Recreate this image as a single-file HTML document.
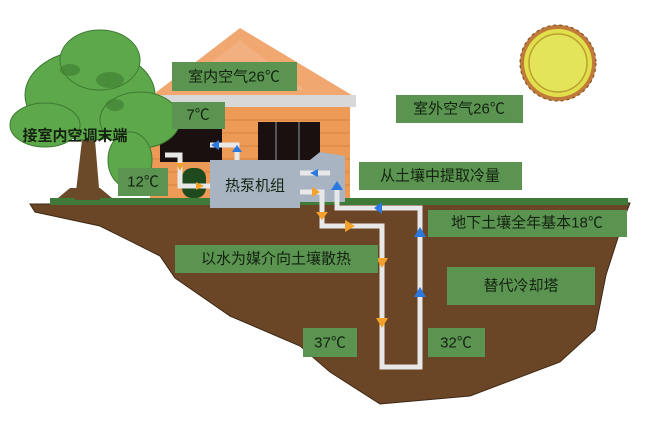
<!DOCTYPE html>
<html><head><meta charset="utf-8"><style>
body{margin:0;background:#fff;}
svg text{font-family:"Liberation Sans","Noto Sans CJK SC",sans-serif;fill:#142210;}
</style></head><body>
<svg width="645" height="427" viewBox="0 0 645 427" xmlns="http://www.w3.org/2000/svg">
<!-- sun -->
<g transform="translate(558,63)">
<circle r="38" fill="#c07a3a" stroke="#7a4a20" stroke-width="1" stroke-dasharray="3 3"/>
<circle r="34" fill="#e2e04a"/>
<circle r="29" fill="#e4e45a" stroke="#b9a030" stroke-width="1.5"/>
</g>
<!-- house roof -->
<polygon points="240,28 150,97 355,97" fill="#f0a870"/>
<polygon points="240,40 175,90 305,90" fill="#f4b890" opacity="0.5"/>
<rect x="148" y="95" width="208" height="12" fill="#d8d8d8"/>
<rect x="150" y="107" width="200" height="95" fill="#ec9a55"/>
<g stroke="#d7843f" stroke-width="1">
<line x1="150" y1="120" x2="350" y2="120"/><line x1="150" y1="133" x2="350" y2="133"/><line x1="150" y1="146" x2="350" y2="146"/><line x1="150" y1="159" x2="350" y2="159"/><line x1="150" y1="172" x2="350" y2="172"/><line x1="150" y1="185" x2="350" y2="185"/>
</g>
<rect x="258" y="122" width="62" height="40" fill="#1a1010"/>
<rect x="275" y="122" width="2" height="40" fill="#555"/><rect x="298" y="122" width="2" height="40" fill="#555"/>
<rect x="160" y="128" width="62" height="34" fill="#1a1010"/>
<!-- ground -->
<path d="M30,204 L630,203 L625,216 L606,275 L595,330 L560,362 L470,396 L380,404 L330,372 L300,346 L230,316 L175,278 L160,256 L100,226 L35,212 Z" fill="#6a4526" stroke="#3d2a16" stroke-width="1"/>
<rect x="50" y="198" width="578" height="7" fill="#3f7a38"/>
<!-- tree -->
<path d="M75,200 L82,140 L95,140 L100,200 Z" fill="#6b4a2a"/>
<path d="M58,198 L112,198 L100,188 L70,188 Z" fill="#6b4a2a"/>
<g fill="#5da84a" stroke="#3d7a30" stroke-width="1">
<ellipse cx="90" cy="95" rx="65" ry="45"/>
<ellipse cx="45" cy="125" rx="35" ry="22"/>
<ellipse cx="140" cy="120" rx="40" ry="28"/>
<ellipse cx="100" cy="60" rx="40" ry="30"/>
<ellipse cx="130" cy="160" rx="22" ry="28"/>
</g>
<g fill="#3d7a30" opacity="0.6">
<ellipse cx="110" cy="80" rx="14" ry="8"/><ellipse cx="70" cy="70" rx="10" ry="6"/><ellipse cx="115" cy="105" rx="9" ry="6"/>
</g>
<!-- heat pump -->
<path d="M210,160 L310,160 L320,152 L345,156 L345,202 L300,202 L300,208 L210,208 Z" fill="#a9b4c2"/>
<rect x="182" y="168" width="24" height="30" rx="10" fill="#1f4a1e"/>
<!-- pipes -->
<g fill="none" stroke="#e8e8e8" stroke-width="5">
<polyline points="165,155 180,155 180,186 210,186"/>
<polyline points="210,145 237,145 237,160"/>
<polyline points="300,192 322,192 322,226 382,226 382,367 420,367 420,208 337,208 337,185"/>
<polyline points="300,173 330,173"/>
</g>
<g fill="#f3a12a">
<polygon points="376,258 388,258 382,268"/><polygon points="376,318 388,318 382,328"/><polygon points="316,212 328,212 322,220"/><polygon points="345,220 355,226 345,232"/><polygon points="312,187 320,192 312,197"/><polygon points="176,163 184,163 180,171"/><polygon points="196,182 204,186 196,190"/>
</g>
<g fill="#2a78e0">
<polygon points="414,237 426,237 420,227"/><polygon points="414,297 426,297 420,287"/><polygon points="382,202 374,208 382,214"/><polygon points="331,190 343,190 337,181"/><polygon points="232,152 242,152 237,145"/><polygon points="219,140 211,145 219,150"/><polygon points="318,169 310,173 318,177"/>
</g>
<!-- labels -->
<g fill="#5a9450">
<rect x="172" y="62" width="125" height="29"/>
<rect x="172" y="102" width="53" height="27"/>
<rect x="118" y="168" width="50" height="28"/>
<rect x="396" y="95" width="127" height="28"/>
<rect x="359" y="162" width="163" height="28"/>
<rect x="428" y="210" width="199" height="27"/>
<rect x="175" y="245" width="203" height="28"/>
<rect x="447" y="267" width="148" height="38"/>
<rect x="303" y="328" width="54" height="29"/>
<rect x="428" y="328" width="57" height="29"/>
</g>
<g font-size="15" text-anchor="middle" dominant-baseline="central">
<text x="234" y="77">室内空气26℃</text>
<text x="198" y="115">7℃</text>
<text x="143" y="182">12℃</text>
<text x="255" y="186">热泵机组</text>
<text x="459" y="109">室外空气26℃</text>
<text x="440" y="176">从土壤中提取冷量</text>
<text x="527" y="223">地下土壤全年基本18℃</text>
<text x="276" y="259">以水为媒介向土壤散热</text>
<text x="521" y="286">替代冷却塔</text>
<text x="330" y="343">37℃</text>
<text x="456" y="343">32℃</text>
<text x="75" y="136" font-weight="bold">接室内空调末端</text>
</g>
</svg>
</body></html>
